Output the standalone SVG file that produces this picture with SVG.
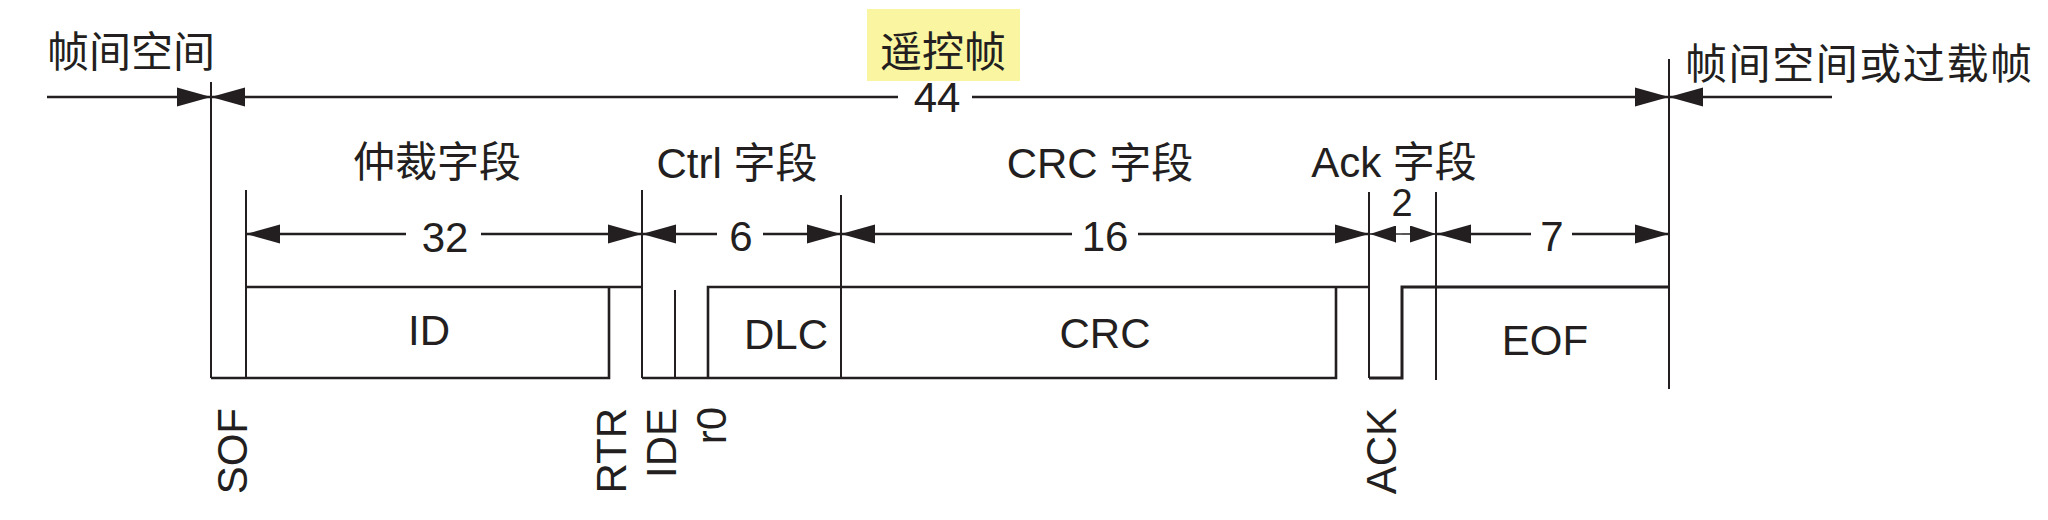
<svg xmlns="http://www.w3.org/2000/svg" width="2048" height="520" viewBox="0 0 2048 520">
<style>
.t{font-family:"Liberation Sans","Noto Sans CJK SC",sans-serif;font-size:42px;fill:#231f20}
.m{text-anchor:middle}
.sig{fill:none;stroke:#231f20;stroke-width:2.6;stroke-linejoin:miter}
.v{fill:none;stroke:#231f20;stroke-width:2}
.dim{fill:none;stroke:#231f20;stroke-width:2.6}
.dimS{fill:none;stroke:#231f20;stroke-width:1.4}
.a{marker-start:url(#ah)}
.b{marker-end:url(#ah)}
.as{marker-start:url(#ahs)}
.bs{marker-end:url(#ahs)}
</style>
<defs>
<marker id="ah" markerUnits="userSpaceOnUse" markerWidth="34" markerHeight="20" refX="34" refY="9.5" orient="auto-start-reverse" viewBox="0 0 34 19">
<path d="M0,0 L34,9.5 L0,19 z" fill="#231f20"/>
</marker>
<marker id="ahs" markerUnits="userSpaceOnUse" markerWidth="26" markerHeight="17" refX="26" refY="8.5" orient="auto-start-reverse" viewBox="0 0 26 17">
<path d="M0,0 L26,8.5 L0,17 z" fill="#231f20"/>
</marker>
</defs>
<rect width="2048" height="520" fill="#ffffff"/>

<g id="headers">
<text class="t" x="47" y="67">帧间空间</text>
<rect x="867" y="9" width="153" height="72" fill="#faf5a0"/>
<text class="t m" x="943" y="67">遥控帧</text>
<text class="t" x="1685" y="79" textLength="347" lengthAdjust="spacing">帧间空间或过载帧</text>
</g>

<g id="field-labels">
<text class="t m" x="437" y="177">仲裁字段</text>
<text class="t m" x="737" y="178">Ctrl 字段</text>
<text class="t m" x="1100" y="178">CRC 字段</text>
<text class="t m" x="1394" y="177">Ack 字段</text>
</g>

<g id="connectors">
<!-- frame extent 44 -->
<line class="dim b" x1="47" y1="97" x2="211" y2="97"/>
<line class="dim a" x1="211" y1="97" x2="898" y2="97"/>
<line class="dim b" x1="972" y1="97" x2="1669" y2="97"/>
<line class="dim a" x1="1669" y1="97" x2="1832" y2="97"/>
<!-- 32 -->
<line class="dim a" x1="246" y1="234" x2="406" y2="234"/>
<line class="dim b" x1="481" y1="234" x2="642" y2="234"/>
<!-- 6 -->
<line class="dim a" x1="642" y1="234" x2="717" y2="234"/>
<line class="dim b" x1="763" y1="234" x2="841" y2="234"/>
<!-- 16 -->
<line class="dim a" x1="841" y1="234" x2="1072" y2="234"/>
<line class="dim b" x1="1138" y1="234" x2="1369" y2="234"/>
<!-- 2 -->
<line class="dimS as" x1="1370" y1="234" x2="1402" y2="234"/>
<line class="dimS bs" x1="1402" y1="234" x2="1436" y2="234"/>
<!-- 7 -->
<line class="dim a" x1="1437" y1="234" x2="1531" y2="234"/>
<line class="dim b" x1="1572" y1="234" x2="1669" y2="234"/>
</g>

<g id="dimension-values">
<text class="t m" x="937" y="112">44</text>
<text class="t m" x="445" y="252">32</text>
<text class="t m" x="741" y="251">6</text>
<text class="t m" x="1105" y="251">16</text>
<text class="t m" x="1402" y="216" style="font-size:38px">2</text>
<text class="t m" x="1552" y="251">7</text>
</g>

<g id="boundaries">
<line class="v" x1="211" y1="82" x2="211" y2="378"/>
<line class="v" x1="246" y1="190" x2="246" y2="378"/>
<line class="v" x1="642" y1="190" x2="642" y2="378"/>
<line class="v" x1="675" y1="290" x2="675" y2="378"/>
<line class="v" x1="841" y1="195" x2="841" y2="378"/>
<line class="v" x1="1369" y1="192" x2="1369" y2="378"/>
<line class="v" x1="1436" y1="192" x2="1436" y2="380"/>
<line class="v" x1="1669" y1="59" x2="1669" y2="389"/>
</g>

<g id="signal">
<path class="sig" d="M211,378 H609 V287"/>
<path class="sig" d="M246,287 H642"/>
<path class="sig" d="M642,378 H1336 V287"/>
<path class="sig" d="M708,378 V287 H1369"/>
<path class="sig" d="M1369,378 H1402 V287 H1669" style="stroke-width:3"/>
</g>

<g id="node-ID"><text class="t m" x="429" y="345">ID</text></g>
<g id="node-DLC"><text class="t m" x="786" y="349">DLC</text></g>
<g id="node-CRC"><text class="t m" x="1105" y="348">CRC</text></g>
<g id="node-EOF"><text class="t m" x="1545" y="355">EOF</text></g>

<g id="bit-labels">
<text class="t" text-anchor="end" transform="translate(247,408) rotate(-90)">SOF</text>
<text class="t" text-anchor="end" transform="translate(626,408) rotate(-90)">RTR</text>
<text class="t" text-anchor="end" transform="translate(676,408) rotate(-90)">IDE</text>
<text class="t" text-anchor="end" transform="translate(726,407) rotate(-90)">r0</text>
<text class="t" text-anchor="end" transform="translate(1396,408) rotate(-90)">ACK</text>
</g>
</svg>
